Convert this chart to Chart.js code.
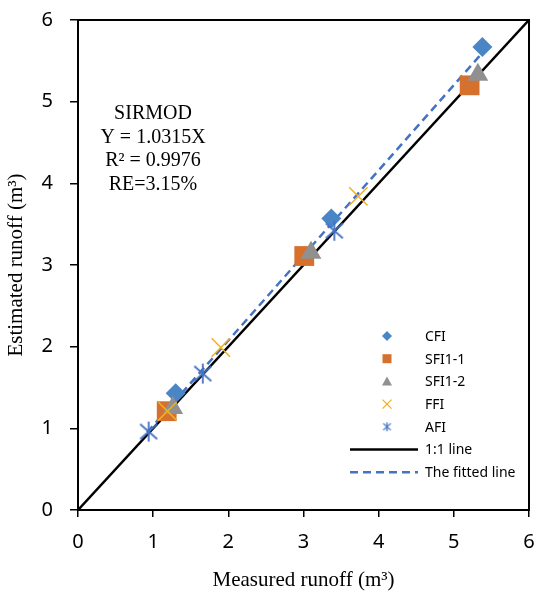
<!DOCTYPE html>
<html>
<head>
<meta charset="utf-8">
<script src="https://cdn.jsdelivr.net/npm/chart.js@4.4.1/dist/chart.umd.min.js"></script>
<style>
  html, body { margin: 0; padding: 0; background: #fff; }
</style>
</head>
<body>
<canvas id="runoffChart" width="540" height="595"></canvas>
<script>
// measured (x) vs estimated (y) runoff, m3
const cfiX = [1.30, 3.37, 5.38];
const cfiY = [1.43, 3.57, 5.67];
const sfi11X = [1.18, 3.01, 5.21];
const sfi11Y = [1.21, 3.11, 5.20];
const sfi12X = [1.26, 3.10, 5.32];
const sfi12Y = [1.25, 3.15, 5.33];
const ffiX = [1.19, 1.90, 3.73];
const ffiY = [1.21, 1.99, 3.84];
const afiX = [0.94, 1.66, 3.41];
const afiY = [0.96, 1.67, 3.42];
const oneToOneX = [0, 6];
const oneToOneY = [0, 6];
const fittedX = [0.92, 5.40];
const fittedY = [0.95, 5.62];
const tickValues = [0, 1, 2, 3, 4, 5, 6];
const noteLines = ['SIRMOD', 'Y = 1.0315X', 'R\u00B2 = 0.9976', 'RE=3.15%'];

const pts = (xs, ys) => xs.map((x, i) => ({ x: x, y: ys[i] }));

// asterisk marker (vertical bar + X) for AFI
function asterisk(size, color, lw) {
    const c = document.createElement('canvas');
    c.width = size; c.height = size;
    const g = c.getContext('2d');
    const m = size / 2, r = size / 2 - 1;
    g.strokeStyle = color;
    g.lineWidth = lw;
    g.beginPath();
    g.moveTo(m, m - r); g.lineTo(m, m + r);
    g.moveTo(m - r * 0.85, m - r * 0.75); g.lineTo(m + r * 0.85, m + r * 0.75);
    g.moveTo(m - r * 0.85, m + r * 0.75); g.lineTo(m + r * 0.85, m - r * 0.75);
    g.stroke();
    return c;
}

const blueMarker = '#4a86c6';
const orange = '#d5702d';
const gray = '#909090';
const gold = '#f0b020';
const afiBlue = '#4472c4';

const frame = {
    id: 'frame',
    afterDraw(chart) {
        const a = chart.chartArea, ctx = chart.ctx;
        ctx.save();
        ctx.strokeStyle = '#000';
        ctx.lineWidth = 2;
        ctx.strokeRect(a.left, a.top, a.right - a.left, a.bottom - a.top);

        // regression note
        ctx.fillStyle = '#000';
        ctx.font = '20px "Liberation Serif", "Times New Roman", serif';
        ctx.textAlign = 'center';
        ctx.textBaseline = 'middle';
        noteLines.forEach((t, i) => ctx.fillText(t, a.left + 75, a.top + 94 + i * 23.5));

        // legend
        const lx = 387, tx = 425;
        let y = 336;
        const step = 22.7;
        ctx.font = '14px "Noto Sans", "Open Sans", sans-serif';
        ctx.textAlign = 'left';
        chart.data.datasets.forEach(ds => {
            ctx.fillStyle = '#000';
            ctx.fillText(ds.label, tx, y + 1);
            if (ds.showLine) {
                ctx.strokeStyle = ds.borderColor;
                ctx.lineWidth = ds.borderWidth;
                ctx.setLineDash(ds.borderDash || []);
                ctx.beginPath();
                ctx.moveTo(350, y); ctx.lineTo(418, y);
                ctx.stroke();
                ctx.setLineDash([]);
            } else {
                const s = ds.pointStyle;
                ctx.fillStyle = ds.backgroundColor;
                ctx.strokeStyle = ds.borderColor;
                ctx.lineWidth = 1.3;
                ctx.beginPath();
                if (s === 'rectRot') {
                    ctx.moveTo(lx, y - 5); ctx.lineTo(lx + 5, y); ctx.lineTo(lx, y + 5); ctx.lineTo(lx - 5, y);
                    ctx.closePath(); ctx.fill();
                } else if (s === 'rect') {
                    ctx.fillRect(lx - 4.5, y - 4.5, 9, 9);
                } else if (s === 'triangle') {
                    ctx.moveTo(lx, y - 5); ctx.lineTo(lx + 5, y + 4); ctx.lineTo(lx - 5, y + 4);
                    ctx.closePath(); ctx.fill();
                } else if (s === 'crossRot') {
                    ctx.moveTo(lx - 4.5, y - 4.5); ctx.lineTo(lx + 4.5, y + 4.5);
                    ctx.moveTo(lx - 4.5, y + 4.5); ctx.lineTo(lx + 4.5, y - 4.5);
                    ctx.stroke();
                } else {
                    ctx.drawImage(asterisk(11, afiBlue, 1.3), lx - 5.5, y - 5.5);
                }
            }
            y += step;
        });
        ctx.restore();
    }
};

const ctx = document.getElementById('runoffChart').getContext('2d');

const runoffChart = new Chart(ctx, {
    type: 'scatter',
    data: {
        datasets: [
            {
                label: 'CFI',
                data: pts(cfiX, cfiY),
                pointStyle: 'rectRot',
                pointRadius: 10,
                backgroundColor: blueMarker,
                borderColor: blueMarker,
                borderWidth: 0,
                order: 5
            },
            {
                label: 'SFI1-1',
                data: pts(sfi11X, sfi11Y),
                pointStyle: 'rect',
                pointRadius: 14,
                backgroundColor: orange,
                borderColor: orange,
                borderWidth: 0,
                order: 4
            },
            {
                label: 'SFI1-2',
                data: pts(sfi12X, sfi12Y),
                pointStyle: 'triangle',
                pointRadius: 12,
                backgroundColor: gray,
                borderColor: gray,
                borderWidth: 0,
                order: 3
            },
            {
                label: 'FFI',
                data: pts(ffiX, ffiY),
                pointStyle: 'crossRot',
                pointRadius: 13,
                backgroundColor: gold,
                borderColor: gold,
                borderWidth: 1.5,
                order: 2
            },
            {
                label: 'AFI',
                data: pts(afiX, afiY),
                pointStyle: asterisk(22, afiBlue, 1.8),
                backgroundColor: afiBlue,
                borderColor: afiBlue,
                order: 1
            },
            {
                label: '1:1 line',
                data: pts(oneToOneX, oneToOneY),
                showLine: true,
                pointRadius: 0,
                borderColor: '#000',
                borderWidth: 2.5,
                order: 7
            },
            {
                label: 'The fitted line',
                data: pts(fittedX, fittedY),
                showLine: true,
                pointRadius: 0,
                borderColor: afiBlue,
                borderWidth: 2.5,
                borderDash: [8, 5],
                order: 6
            }
        ]
    },
    options: {
        responsive: false,
        animation: false,
        layout: { autoPadding: false, padding: { top: 20, right: 11, left: 0, bottom: 0 } },
        plugins: {
            legend: { display: false },
            tooltip: { enabled: false }
        },
        scales: {
            x: {
                min: 0,
                max: 6,
                afterBuildTicks: s => { s.ticks = tickValues.map(v => ({ value: v })); },
                afterFit: s => { s.height = 85; s.paddingLeft = 0; s.paddingRight = 0; },
                ticks: {
                    color: '#000',
                    padding: 13,
                    maxRotation: 0,
                    font: { family: '"Noto Sans", "Open Sans", sans-serif', size: 20 }
                },
                grid: { drawOnChartArea: false, drawTicks: true, tickLength: 7, color: '#000', lineWidth: 1.5 },
                border: { color: '#000', width: 2 },
                title: {
                    display: true,
                    text: 'Measured runoff (m\u00B3)',
                    color: '#000',
                    padding: { top: 0, bottom: 2 },
                    font: { family: '"Liberation Serif", "Times New Roman", serif', size: 21 }
                }
            },
            y: {
                min: 0,
                max: 6,
                afterBuildTicks: s => { s.ticks = tickValues.map(v => ({ value: v })); },
                afterFit: s => { s.width = 78; s.paddingTop = 0; s.paddingBottom = 0; },
                ticks: {
                    color: '#000',
                    padding: 17,
                    font: { family: '"Noto Sans", "Open Sans", sans-serif', size: 20 }
                },
                grid: { drawOnChartArea: false, drawTicks: true, tickLength: 8, color: '#000', lineWidth: 1.5 },
                border: { color: '#000', width: 2 },
                title: {
                    display: true,
                    text: 'Estimated runoff (m\u00B3)',
                    color: '#000',
                    padding: { top: 4, bottom: 0 },
                    font: { family: '"Liberation Serif", "Times New Roman", serif', size: 21 }
                }
            }
        }
    },
    plugins: [frame]
});
</script>
</body>
</html>
